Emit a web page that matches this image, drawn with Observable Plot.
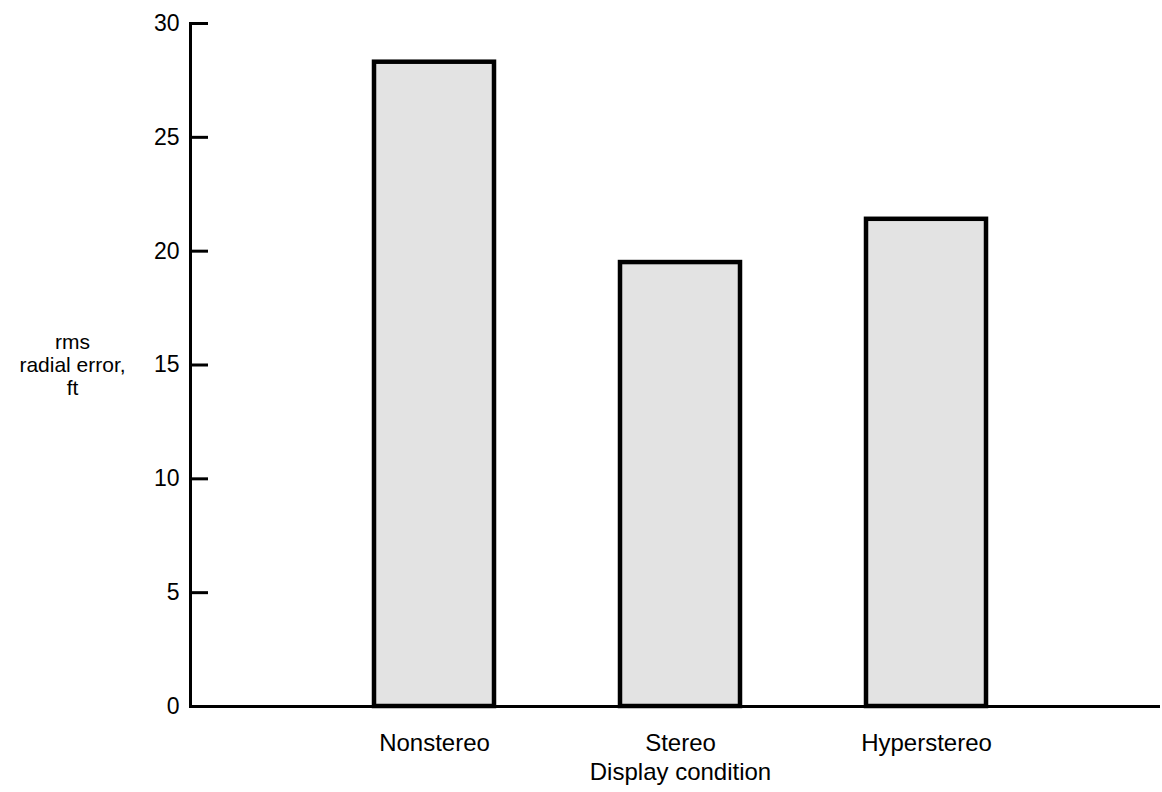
<!DOCTYPE html>
<html>
<head>
<meta charset="utf-8">
<script src="https://cdn.jsdelivr.net/npm/d3@7"></script>
<script src="https://cdn.jsdelivr.net/npm/@observablehq/plot@0.6"></script>
<style>
  html, body { margin: 0; padding: 0; background: #fff; }
  #chart svg { display: block; font-family: "Liberation Sans", Arial, sans-serif; }
</style>
</head>
<body>
<div id="chart"></div>
<script>
const conditions = ["Nonstereo", "Stereo", "Hyperstereo"];
const rmsError = [28.3, 19.5, 21.4];
const yTicks = [0, 5, 10, 15, 20, 25, 30];
const xTitle = "Display condition";
const yTitle = "rms\nradial error,\nft";

const data = conditions.map((c, i) => ({condition: c, value: rmsError[i]}));

const W = 1162, H = 792;
const chart = Plot.plot({
  width: W,
  height: H,
  marginTop: 23,
  marginBottom: 86,
  marginLeft: 190,
  marginRight: 2,
  style: {fontSize: "24px", color: "#000", background: "#fff"},
  x: {domain: conditions, range: [374, 987], paddingInner: 0.512, paddingOuter: 0, label: null},
  y: {domain: [0, 30], label: null},
  marks: [
    Plot.barY(data, {x: "condition", y: "value", fill: "#e3e3e3", stroke: "#000", strokeWidth: 4.5}),
    Plot.frame({anchor: "left", stroke: "#000", strokeWidth: 3}),
    Plot.ruleY([0], {stroke: "#000", strokeWidth: 3}),
    Plot.tickY(yTicks, {y: d => d, stroke: "#000", strokeWidth: 3, insetRight: (W - 190 - 2) - 18}),
    Plot.axisY(yTicks, {tickSize: 0, tickPadding: 11, fontSize: 23, label: null, fill: "#000"}),
    Plot.axisX({tickSize: 0, tickPadding: 27, fontSize: 24, label: null, fill: "#000"}),
    Plot.text([xTitle], {frameAnchor: "bottom", dy: 73, dx: 5, fontSize: 24, fill: "#000"}),
    Plot.text([yTitle], {frameAnchor: "left", dx: -118, fontSize: 21, lineHeight: 1.1, textAnchor: "middle", fill: "#000"})
  ]
});
document.getElementById("chart").appendChild(chart);
</script>
</body>
</html>
